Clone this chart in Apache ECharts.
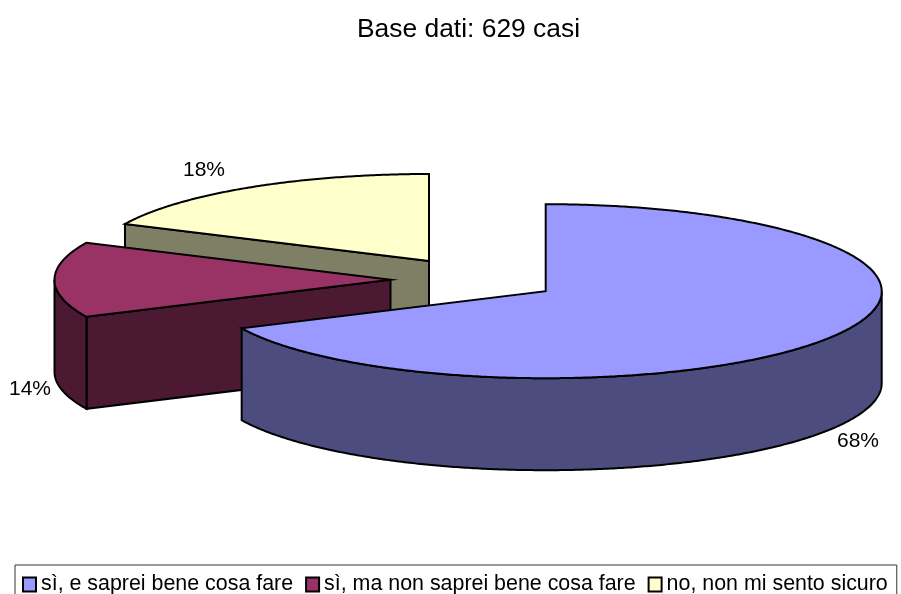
<!DOCTYPE html>
<html><head><meta charset="utf-8">
<style>html,body{margin:0;padding:0;background:#fff;overflow:hidden}#c{width:901px;height:594px}</style>
<script src="https://cdn.jsdelivr.net/npm/echarts@6/dist/echarts.min.js"></script>
</head><body><div id="c"></div>
<script>
const titleText = 'Base dati: 629 casi';
const categories = ['sì, e saprei bene cosa fare', 'sì, ma non saprei bene cosa fare', 'no, non mi sento sicuro'];
const values = [68, 14, 18];
const topColors = ['#9999FF', '#993366', '#FFFFCC'];
const sideColors = ['#4C4C7F', '#4C1933', '#7F7F66'];
// exploded slice apex positions and label centres (layout only)
const apexX = [545.7, 390.5, 429];
const apexY = [291.2, 279.8, 261];
const labelX = [858, 30, 204];
const labelY = [441.5, 389, 170.5];
const RX = 336, RY = 87, DEPTH = 92, FONT = 'Liberation Sans, Arial, sans-serif';

const total = values.reduce((a, b) => a + b, 0);
const startAngles = values.map((_, i) => values.slice(0, i).reduce((a, b) => a + b, 0) / total * 360);

function pt(i, deg, dy) {
  const t = deg * Math.PI / 180;
  return [apexX[i] + RX * Math.sin(t), apexY[i] - RY * Math.cos(t) + (dy || 0)];
}
function arc(i, a, b, dy) {
  const pts = [], n = Math.max(1, Math.ceil(Math.abs(b - a) * 2));
  for (let k = 0; k <= n; k++) pts.push(pt(i, a + (b - a) * k / n, dy));
  return pts;
}
function poly(points, fill) {
  return { type: 'polygon', shape: { points }, silent: true,
    style: { fill, stroke: '#000', lineWidth: 2, lineJoin: 'miter' } };
}
function renderSlice(i) {
  const a = startAngles[i], b = a + values[i] / total * 360;
  const apex = [apexX[i], apexY[i]], apexLow = [apexX[i], apexY[i] + DEPTH];
  const kids = [];
  const face = d => { const p = pt(i, d), q = pt(i, d, DEPTH); return poly([apex, p, q, apexLow], sideColors[i]); };
  if (Math.sin(a * Math.PI / 180) < -1e-6) kids.push(face(a));
  if (Math.sin(b * Math.PI / 180) > 1e-6) kids.push(face(b));
  const wa = Math.max(a, 90), wb = Math.min(b, 270);
  if (wb > wa) kids.push(poly(arc(i, wa, wb).concat(arc(i, wb, wa, DEPTH)), sideColors[i]));
  kids.push(poly([apex].concat(arc(i, a, b)), topColors[i]));
  kids.push({ type: 'text', silent: true, style: {
    x: labelX[i], y: labelY[i], text: Math.round(values[i] / total * 100) + '%',
    font: '21px ' + FONT, fill: '#000', align: 'center', verticalAlign: 'middle' } });
  return { type: 'group', children: kids };
}
const chart = echarts.init(document.getElementById('c'), null, { renderer: 'canvas' });
chart.setOption({
  animation: false,
  backgroundColor: '#fff',
  title: { text: titleText, left: 357, top: 17, padding: 0,
    textStyle: { fontFamily: FONT, fontSize: 26.4, fontWeight: 'normal', color: '#000' } },
  legend: {
    data: categories.map(name => ({ name, icon: 'rect' })),
    left: 15, top: 565, orient: 'horizontal', padding: [9, 9, 12, 7],
    itemGap: 12, itemWidth: 13, itemHeight: 14, selectedMode: false,
    borderColor: '#333', borderWidth: 1, backgroundColor: '#fff',
    itemStyle: { borderColor: '#000', borderWidth: 2 },
    textStyle: { fontFamily: FONT, fontSize: 21.4, color: '#000' }
  },
  // drawn back to front: yellow, maroon, blue
  series: [2, 1, 0].map(i => ({
    type: 'custom', name: categories[i], coordinateSystem: 'none', clip: false,
    itemStyle: { color: topColors[i] }, silent: true,
    data: [[values[i]]],
    renderItem: () => renderSlice(i)
  }))
});
</script></body></html>
